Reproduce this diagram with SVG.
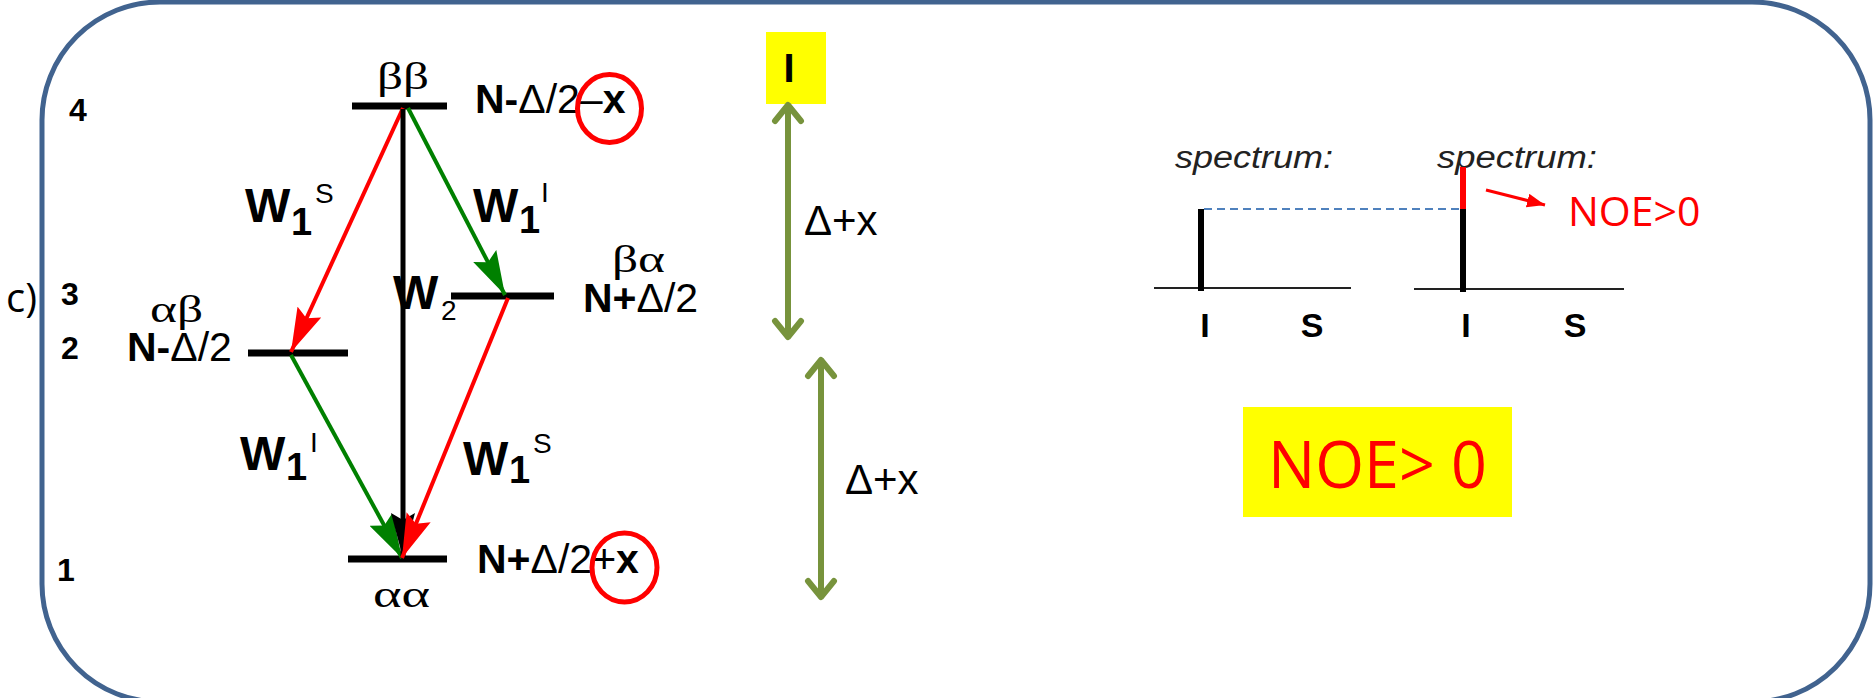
<svg xmlns="http://www.w3.org/2000/svg" width="1874" height="698" viewBox="0 0 1874 698">
<style>
.frame{fill:#fff;stroke:#41638F;stroke-width:5}
.lvl{stroke:#000;stroke-width:7;fill:none}
.num{font-family:"Liberation Sans",Arial,sans-serif;font-weight:bold;font-size:32px;fill:#000}
.lab{font-family:"Liberation Sans",Arial,sans-serif;font-size:41px;fill:#000}
.b{font-weight:bold}
.gr{font-family:"Liberation Serif","Times New Roman",serif;font-size:38px;fill:#000}
.W{font-family:"Liberation Sans",Arial,sans-serif;font-weight:bold;font-size:48px;fill:#000}
.sub{font-family:"Liberation Sans",Arial,sans-serif;font-weight:bold;font-size:38px;fill:#000}
.sup{font-family:"Liberation Sans",Arial,sans-serif;font-size:28px;fill:#000}
.dx{font-family:"Liberation Sans",Arial,sans-serif;font-size:42px;fill:#000}
.spec{font-family:"Liberation Sans",Arial,sans-serif;font-style:italic;font-size:31px;fill:#222}
.is{font-family:"Liberation Sans",Arial,sans-serif;font-weight:bold;font-size:34px;fill:#000;text-anchor:middle}
.noe{font-family:"Open Sans","Liberation Sans",sans-serif;fill:#FF0000}
.olive{stroke:#77933C;stroke-width:6;fill:none;stroke-linecap:round;stroke-linejoin:round}
.circ{fill:none;stroke:#FF0000;stroke-width:5}
</style>
<defs>
<marker id="hr" markerUnits="userSpaceOnUse" viewBox="0 0 44 26" refX="44" refY="13" markerWidth="44" markerHeight="26" orient="auto"><path d="M0,0 L44,13 L0,26 L7,13 z" fill="#FF0000"/></marker>
<marker id="hg" markerUnits="userSpaceOnUse" viewBox="0 0 44 26" refX="44" refY="13" markerWidth="44" markerHeight="26" orient="auto"><path d="M0,0 L44,13 L0,26 L7,13 z" fill="#008000"/></marker>
<marker id="hk" markerUnits="userSpaceOnUse" viewBox="0 0 45 24" refX="45" refY="12" markerWidth="45" markerHeight="24" orient="auto"><path d="M0,0 L45,12 L0,24 L7,12 z" fill="#000"/></marker>
<marker id="hs" markerUnits="userSpaceOnUse" viewBox="0 0 18 14" refX="18" refY="7" markerWidth="18" markerHeight="14" orient="auto"><path d="M0,0 L18,7 L0,14 z" fill="#FF0000"/></marker>
</defs>

<rect class="frame" x="42" y="2" width="1828" height="700" rx="118" ry="118"/>

<g id="row-labels">
<text x="6" y="312" font-family="'Open Sans','Liberation Sans',sans-serif" font-size="40" fill="#000">c)</text>
<text class="num" x="69" y="121">4</text>
<text class="num" x="61" y="305">3</text>
<text class="num" x="61" y="359">2</text>
<text class="num" x="57" y="581">1</text>
</g>

<g id="level-bb">
<line class="lvl" x1="352" y1="106" x2="447" y2="106"/>
<text class="gr" x="377" y="89" textLength="52" lengthAdjust="spacingAndGlyphs">ββ</text>
<text class="lab" x="475" y="113"><tspan class="b">N-</tspan><tspan>Δ/2–</tspan><tspan class="b">x</tspan></text>
<ellipse class="circ" cx="609.5" cy="108.5" rx="32" ry="34"/>
</g>

<g id="level-ba">
<line class="lvl" x1="451" y1="296" x2="554" y2="296"/>
<text class="gr" x="612" y="272" textLength="53" lengthAdjust="spacingAndGlyphs">βα</text>
<text class="lab" x="583" y="312" font-size="42"><tspan class="b">N+</tspan><tspan>Δ/2</tspan></text>
</g>

<g id="level-ab">
<line class="lvl" x1="248" y1="353" x2="348" y2="353"/>
<text class="gr" x="150" y="322" textLength="53" lengthAdjust="spacingAndGlyphs">αβ</text>
<text class="lab" x="127" y="361"><tspan class="b">N-</tspan><tspan>Δ/2</tspan></text>
</g>

<g id="level-aa">
<line class="lvl" x1="348" y1="559" x2="447" y2="559"/>
<text class="gr" x="373" y="607" textLength="57" lengthAdjust="spacingAndGlyphs">αα</text>
<text class="lab" x="477" y="573" font-size="42"><tspan class="b">N+</tspan><tspan>Δ/2+</tspan><tspan class="b">x</tspan></text>
<ellipse class="circ" cx="624.5" cy="567.5" rx="32.5" ry="34.5"/>
</g>

<g id="connectors">
<line x1="403" y1="108" x2="291" y2="352" stroke="#FF0000" stroke-width="4" marker-end="url(#hr)"/>
<line x1="408" y1="108" x2="505" y2="295" stroke="#008000" stroke-width="4" marker-end="url(#hg)"/>
<line x1="291" y1="355" x2="402" y2="558" stroke="#008000" stroke-width="4" marker-end="url(#hg)"/>
<line x1="403" y1="109" x2="403" y2="558" stroke="#000" stroke-width="5" marker-end="url(#hk)"/>
<line x1="508" y1="298" x2="402" y2="558" stroke="#FF0000" stroke-width="4" marker-end="url(#hr)"/>
</g>

<g id="rate-labels">
<text class="W" x="245" y="222">W</text><text class="sub" x="291" y="235">1</text><text class="sup" x="315" y="203">S</text>
<text class="W" x="473" y="222">W</text><text class="sub" x="519" y="233">1</text><text class="sup" x="541" y="202">I</text>
<text class="W" x="393" y="309" font-size="50">W</text><text class="sup" x="441" y="320" font-size="32">2</text>
<text class="W" x="240" y="470">W</text><text class="sub" x="286" y="480">1</text><text class="sup" x="310" y="452">I</text>
<text class="W" x="463" y="475">W</text><text class="sub" x="509" y="483">1</text><text class="sup" x="533" y="453">S</text>
</g>

<g id="spin-I">
<rect x="766" y="32" width="60" height="72" fill="#FFFF00"/>
<text x="789" y="82" font-family="'Liberation Sans',Arial,sans-serif" font-weight="bold" font-size="40" text-anchor="middle">I</text>
</g>

<g id="gap-arrows">
<line class="olive" x1="788" y1="106" x2="788" y2="336"/>
<polyline class="olive" points="775,121 788,105 801,121"/>
<polyline class="olive" points="775,321 788,337 801,321"/>
<text class="dx" x="804" y="235">Δ+x</text>
<line class="olive" x1="821" y1="361" x2="821" y2="596"/>
<polyline class="olive" points="808,376 821,360 834,376"/>
<polyline class="olive" points="808,581 821,597 834,581"/>
<text class="dx" x="845" y="494">Δ+x</text>
</g>

<g id="spectrum-1">
<text class="spec" x="1175" y="168" textLength="158" lengthAdjust="spacingAndGlyphs">spectrum:</text>
<line x1="1154" y1="288" x2="1351" y2="288" stroke="#222" stroke-width="2"/>
<line x1="1201" y1="209" x2="1201" y2="291" stroke="#000" stroke-width="6"/>
<text class="is" x="1205" y="337">I</text>
<text class="is" x="1312" y="337">S</text>
</g>

<g id="spectrum-2">
<text class="spec" x="1437" y="168" textLength="160" lengthAdjust="spacingAndGlyphs">spectrum:</text>
<line x1="1414" y1="289" x2="1624" y2="289" stroke="#222" stroke-width="2"/>
<line x1="1463" y1="209" x2="1463" y2="292" stroke="#000" stroke-width="6"/>
<line x1="1463" y1="167" x2="1463" y2="209" stroke="#FF0000" stroke-width="6"/>
<text class="is" x="1466" y="337">I</text>
<text class="is" x="1575" y="337">S</text>
<line x1="1486" y1="190" x2="1545" y2="205" stroke="#FF0000" stroke-width="3" marker-end="url(#hs)"/>
<text class="noe" x="1568" y="226" font-size="41">NOE&gt;0</text>
</g>

<g id="dashed-ref">
<line x1="1204" y1="209" x2="1460" y2="209" stroke="#4F81BD" stroke-width="2" stroke-dasharray="8,5"/>
</g>

<g id="noe-result">
<rect x="1243" y="407" width="269" height="110" fill="#FFFF00"/>
<text class="noe" x="1268" y="488" font-size="66" textLength="219" lengthAdjust="spacingAndGlyphs">NOE&gt; 0</text>
</g>
</svg>
